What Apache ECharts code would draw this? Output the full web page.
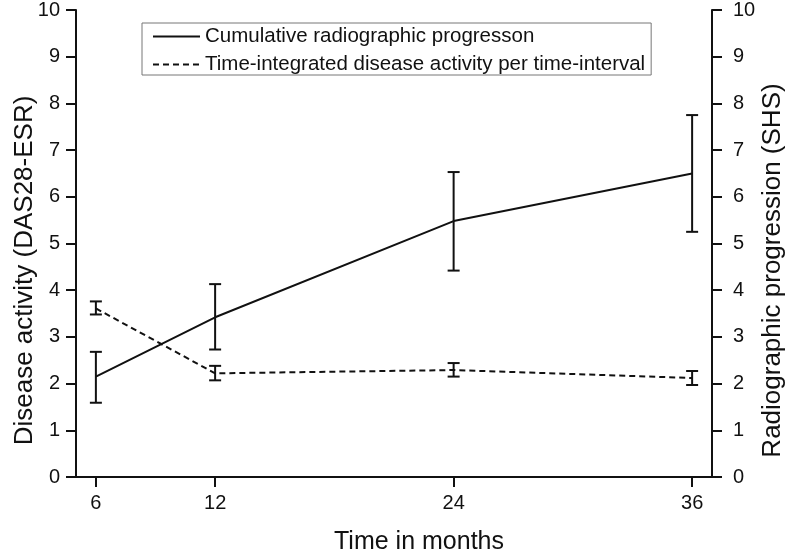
<!DOCTYPE html>
<html>
<head>
<meta charset="utf-8">
<script src="https://cdn.jsdelivr.net/npm/echarts@6/dist/echarts.min.js"></script>
<style>html,body{margin:0;padding:0;background:#fff;}#c{width:787px;height:550px;}</style>
</head>
<body>
<div id="c"></div>
<script>
var months = [6, 12, 24, 36];
var xTickLabels = [6, 12, 24, 36];
var radioName = 'Cumulative radiographic progresson';
var radioMean = [2.15, 3.42, 5.48, 6.50];
var radioLower = [1.59, 2.73, 4.42, 5.25];
var radioUpper = [2.68, 4.13, 6.53, 7.75];
var dasName = 'Time-integrated disease activity per time-interval';
var dasMean = [3.61, 2.22, 2.29, 2.12];
var dasLower = [3.48, 2.07, 2.15, 1.97];
var dasUpper = [3.76, 2.38, 2.44, 2.27];

var FONT = '"Liberation Sans", Arial, sans-serif';
var INK = '#111';

function pairs(xs, ys) { return xs.map(function (x, i) { return [x, ys[i]]; }); }
function errData(xs, lo, hi) { return xs.map(function (x, i) { return [x, lo[i], hi[i]]; }); }

function errRender(params, api) {
  var x = api.value(0);
  var lo = api.coord([x, api.value(1)]);
  var hi = api.coord([x, api.value(2)]);
  var hw = 6;
  var st = { stroke: INK, lineWidth: 2 };
  return {
    type: 'group',
    children: [
      { type: 'line', shape: { x1: lo[0], y1: lo[1], x2: hi[0], y2: hi[1] }, style: st },
      { type: 'line', shape: { x1: lo[0] - hw, y1: lo[1], x2: lo[0] + hw, y2: lo[1] }, style: st },
      { type: 'line', shape: { x1: hi[0] - hw, y1: hi[1], x2: hi[0] + hw, y2: hi[1] }, style: st }
    ]
  };
}

var yAxisCommon = {
  type: 'value', min: 0, max: 10, interval: 1,
  axisLine: { show: true, lineStyle: { color: INK, width: 2 } },
  axisTick: { show: true, inside: false, length: 10, lineStyle: { color: INK, width: 2 } },
  splitLine: { show: false },
  nameLocation: 'middle',
  nameRotate: 90,
  nameMoveOverlap: false,
  nameTextStyle: { fontFamily: FONT, fontSize: 26, color: INK, padding: [0, 54, 0, 0] }
};

var chart = echarts.init(document.getElementById('c'), null, { renderer: 'canvas' });
chart.setOption({
  animation: false,
  backgroundColor: '#fff',
  textStyle: { fontFamily: FONT, color: INK },
  grid: { left: 76, right: 75, top: 10, bottom: 73, containLabel: false, outerBoundsMode: 'none' },
  legend: {
    orient: 'vertical',
    left: 142, top: 23,
    padding: [3, 6, 0, 10],
    itemGap: 7,
    itemWidth: 47,
    itemHeight: 14,
    borderColor: '#777',
    borderWidth: 1,
    itemStyle: { opacity: 0 },
    textStyle: { fontFamily: FONT, fontSize: 20.5, color: INK, lineHeight: 20 },
    data: [radioName, dasName]
  },
  xAxis: {
    type: 'value', min: 5, max: 37,
    name: 'Time in months',
    nameLocation: 'middle',
    nameGap: 53,
    nameMoveOverlap: false,
    nameTextStyle: { fontFamily: FONT, fontSize: 25, color: INK, padding: [0, 0, 0, 50] },
    axisLine: { show: true, lineStyle: { color: INK, width: 2 } },
    axisTick: { show: true, inside: false, length: 10, customValues: xTickLabels, lineStyle: { color: INK, width: 2 } },
    axisLabel: { customValues: xTickLabels, fontFamily: FONT, fontSize: 20, color: INK, margin: 16 },
    splitLine: { show: false }
  },
  yAxis: [
    Object.assign({}, yAxisCommon, {
      position: 'left',
      name: 'Disease activity (DAS28-ESR)',
      nameGap: 38,
      axisLabel: { fontFamily: FONT, fontSize: 20, color: INK, margin: 16 }
    }),
    Object.assign({}, yAxisCommon, {
      position: 'right',
      name: 'Radiographic progression (SHS)',
      nameGap: 48,
      axisLabel: { fontFamily: FONT, fontSize: 20, color: INK, margin: 21 }
    })
  ],
  series: [
    {
      name: radioName, type: 'line', yAxisIndex: 1,
      data: pairs(months, radioMean),
      symbol: 'none', z: 3,
      lineStyle: { color: INK, width: 2, type: 'solid' },
      itemStyle: { color: INK }
    },
    {
      name: dasName, type: 'line', yAxisIndex: 0,
      data: pairs(months, dasMean),
      symbol: 'none', z: 3,
      lineStyle: { color: INK, width: 2, type: [6, 4] },
      itemStyle: { color: INK }
    },
    {
      name: 'radioErr', type: 'custom', yAxisIndex: 1,
      data: errData(months, radioLower, radioUpper),
      renderItem: errRender, z: 4,
      encode: { x: 0, y: [1, 2] }
    },
    {
      name: 'dasErr', type: 'custom', yAxisIndex: 0,
      data: errData(months, dasLower, dasUpper),
      renderItem: errRender, z: 4,
      encode: { x: 0, y: [1, 2] }
    }
  ]
});
</script>
</body>
</html>
